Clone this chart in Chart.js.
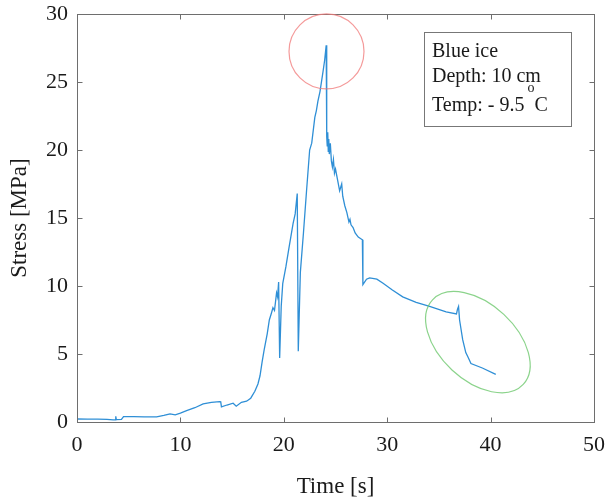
<!DOCTYPE html>
<html>
<head>
<meta charset="utf-8">
<title>Stress vs time</title>
<script src="https://cdn.jsdelivr.net/npm/chart.js@4.4.0/dist/chart.umd.min.js"></script>
<style>
  html, body { margin: 0; padding: 0; background: #fff; }
</style>
</head>
<body>
<canvas id="stressChart" width="606" height="501"></canvas>
<script>
// values (time in s, stress in MPa)
const timeS = [
  0.0, 1.0, 2.0, 2.9, 3.5, 3.7, 3.75, 3.8, 4.3, 4.5, 5.5, 6.5, 7.7, 8.4, 9.0, 9.5,
  10.0, 10.6, 11.4, 12.2, 13.0, 13.8, 13.9, 13.97, 14.5, 15.1, 15.4, 15.9, 16.4, 16.8,
  17.2, 17.5, 17.7, 17.9, 18.1, 18.4, 18.6, 18.8, 18.95, 19.1, 19.3, 19.4, 19.5, 19.6,
  19.75, 19.9, 20.2, 20.5, 20.9, 21.1, 21.3, 21.4, 21.6, 21.9, 22.2, 22.5, 22.7, 23.0,
  23.15, 23.3, 23.5, 23.8, 23.95, 24.1, 24.15, 24.2, 24.25, 24.3, 24.35, 24.4, 24.5,
  24.6, 24.7, 24.8, 24.9, 25.0, 25.2, 25.4, 25.6, 25.7, 25.9, 26.1, 26.3, 26.4, 26.5,
  26.7, 26.9, 27.2, 27.6, 27.65, 28.0, 28.3, 29.0, 29.6, 30.5, 31.5, 32.8, 34.1, 35.7,
  36.7, 36.8, 36.9, 37.0, 37.3, 37.6, 37.8, 38.1, 39.2, 40.5
];
const stressMPa = [
  0.22, 0.21, 0.21, 0.20, 0.16, 0.16, 0.42, 0.18, 0.19, 0.40, 0.39, 0.38, 0.38, 0.48, 0.60, 0.53,
  0.65, 0.84, 1.05, 1.33, 1.44, 1.50, 1.48, 1.11, 1.25, 1.38, 1.16, 1.45, 1.53, 1.75,
  2.26, 2.8, 3.4, 4.4, 5.3, 6.5, 7.5, 8.0, 8.4, 8.2, 9.5, 9.2, 10.3, 4.7,
  8.5, 10.2, 11.4, 12.8, 14.6, 15.3, 16.8, 5.2, 11.0, 13.9, 17.0, 20.0, 20.5, 22.4,
  22.9, 23.6, 24.3, 25.8, 26.6, 27.7, 21.0, 20.3, 21.3, 19.9, 20.8, 19.7, 20.5,
  19.2, 18.75, 19.3, 18.3, 18.6, 17.8, 17.0, 17.5, 16.6, 15.9, 15.4, 14.7, 14.9, 14.5,
  14.3, 13.9, 13.6, 13.4, 10.1, 10.5, 10.6, 10.5, 10.2, 9.7, 9.2, 8.8, 8.5, 8.1,
  7.95, 8.3, 8.5, 7.5, 6.05, 5.1, 4.8, 4.3, 3.97, 3.5
];
const xTicks = [0, 10, 20, 30, 40, 50];
const yTicks = [0, 5, 10, 15, 20, 25, 30];
const noteLines = ['Blue ice', 'Depth: 10 cm', 'Temp: - 9.5'];
const noteSup = 'o';
const noteUnit = 'C';

const serif = "'Times New Roman', 'Liberation Serif', serif";

const frameAndNotes = {
  id: 'frameAndNotes',
  afterDatasetsDraw(chart) {
    const { ctx, chartArea: a, scales: { x, y } } = chart;
    const L = Math.round(a.left) + 0.5, R = Math.round(a.right) + 0.5;
    const T = Math.round(a.top) + 0.5, B = Math.round(a.bottom) + 0.5;
    ctx.save();

    // box + inward ticks on all sides
    ctx.strokeStyle = '#6e6e6e';
    ctx.lineWidth = 1;
    ctx.strokeRect(L, T, R - L, B - T);
    ctx.beginPath();
    xTicks.forEach(v => {
      const px = Math.round(x.getPixelForValue(v)) + 0.5;
      ctx.moveTo(px, B); ctx.lineTo(px, B - 5);
      ctx.moveTo(px, T); ctx.lineTo(px, T + 5);
    });
    yTicks.forEach(v => {
      const py = Math.round(y.getPixelForValue(v)) + 0.5;
      ctx.moveTo(L, py); ctx.lineTo(L + 5, py);
      ctx.moveTo(R, py); ctx.lineTo(R - 5, py);
    });
    ctx.stroke();

    // red circle round the peak
    ctx.strokeStyle = 'rgba(240,120,120,0.75)';
    ctx.lineWidth = 1.2;
    ctx.beginPath();
    ctx.arc(x.getPixelForValue(24.13), y.getPixelForValue(27.25), 37.5, 0, Math.PI * 2);
    ctx.stroke();

    // green ellipse round the tail
    ctx.strokeStyle = 'rgba(110,200,110,0.8)';
    ctx.beginPath();
    ctx.ellipse(x.getPixelForValue(38.77), y.getPixelForValue(5.87), 62, 38, 43 * Math.PI / 180, 0, Math.PI * 2);
    ctx.stroke();

    // note box
    const bx = Math.round(a.right - 170) + 0.5, by = Math.round(a.top + 18) + 0.5;
    ctx.strokeStyle = '#777';
    ctx.lineWidth = 1;
    ctx.strokeRect(bx, by, 147, 94);
    ctx.fillStyle = '#1a1a1a';
    ctx.font = '20px ' + serif;
    ctx.textBaseline = 'alphabetic';
    ctx.textAlign = 'left';
    const tx = bx + 7.5;
    const bases = [24.5, 49.5, 78];
    noteLines.forEach((s, i) => ctx.fillText(s, tx, by + bases[i]));
    const w = ctx.measureText(noteLines[2]).width;
    ctx.font = '14px ' + serif;
    ctx.fillText(noteSup, tx + w + 3, by + bases[2] - 19);
    const ws = ctx.measureText(noteSup).width;
    ctx.font = '20px ' + serif;
    ctx.fillText(noteUnit, tx + w + 3 + ws, by + bases[2]);
    ctx.restore();
  }
};

new Chart(document.getElementById('stressChart'), {
  type: 'scatter',
  data: {
    datasets: [{
      data: timeS.map((t, i) => ({ x: t, y: stressMPa[i] })),
      showLine: true,
      borderColor: '#2f8fd6',
      borderWidth: 1.3,
      pointRadius: 0,
      tension: 0
    }]
  },
  options: {
    responsive: false,
    animation: false,
    devicePixelRatio: 1,
    layout: { padding: { top: 14, right: 12, left: 0, bottom: 0 } },
    plugins: { legend: { display: false }, tooltip: { enabled: false } },
    scales: {
      x: {
        type: 'linear', min: 0, max: 50,
        afterBuildTicks: s => { s.ticks = xTicks.map(v => ({ value: v })); },
        afterFit: s => { s.height = 79; s.paddingLeft = 0; s.paddingRight = 0; },
        grid: { display: false, drawTicks: false },
        border: { display: false },
        ticks: { font: { family: serif, size: 22 }, color: '#1a1a1a', padding: 10, maxRotation: 0 },
        title: { display: true, text: 'Time [s]', font: { family: serif, size: 23 }, color: '#1a1a1a', padding: { top: 0, bottom: 0 } }
      },
      y: {
        type: 'linear', min: 0, max: 30,
        afterBuildTicks: s => { s.ticks = yTicks.map(v => ({ value: v })); },
        afterFit: s => { s.width = 77; s.paddingTop = 0; s.paddingBottom = 0; },
        grid: { display: false, drawTicks: false },
        border: { display: false },
        ticks: { font: { family: serif, size: 22 }, color: '#1a1a1a', padding: 9 },
        title: { display: true, text: 'Stress [MPa]', font: { family: serif, size: 23 }, color: '#1a1a1a', padding: { top: 6, bottom: 0 } }
      }
    }
  },
  plugins: [frameAndNotes]
});
</script>
</body>
</html>
